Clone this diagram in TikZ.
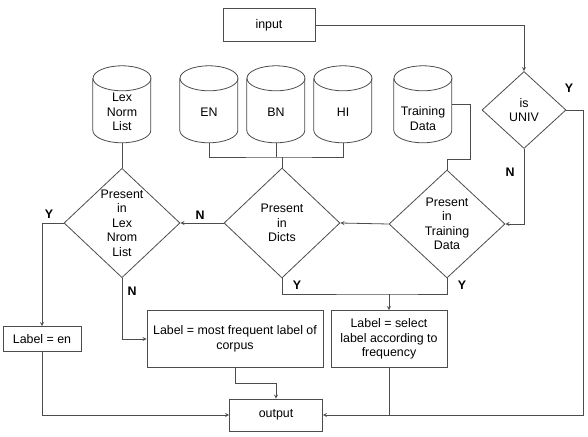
\documentclass[tikz,border=0pt]{standalone}
\usepackage{fontspec}
\setmainfont{Liberation Sans}
\usepackage{tikz}
\usetikzlibrary{arrows,shapes.geometric}

\begin{document}
\begin{tikzpicture}[x=1pt, y=-1pt, >=stealth,
		every node/.style = {font=\fontsize{12.4}{14.5}\selectfont, align=center},
		line/.style = {draw=black!70, line width=0.8pt},
		box/.style = {line, rectangle, inner sep=1pt},
		db/.style = {rectangle, minimum width=58pt, minimum height=77pt, inner sep=0pt},
		test/.style = {line, diamond, inner sep=0pt},
		yn/.style = {font=\fontsize{12.4}{14}\selectfont\bfseries}]
				\useasboundingbox (0,0) rectangle (588,436);
				% input and the first test
				\node [box, minimum width=92pt, minimum height=33pt] (input) at (269,25){input};
				\node [test, minimum width=84pt, minimum height=77pt] (univ) at (524,110){is\\UNIV};
				% data stores
				\node [db, label={[yshift=-7.5pt]center:Lex\\Norm\\List}] (lexdb) at (122,104.5){};
				\node [db, label={[yshift=-7.5pt]center:EN}] (endb) at (209,104.5){};
				\node [db, label={[yshift=-7.5pt]center:BN}] (bndb) at (276,104.5){};
				\node [db, label={[yshift=-7.5pt]center:HI}] (hidb) at (343,104.5){};
				\node [db, label={[yshift=-14pt]center:Training\\Data}] (traindb) at (423,104.5){};
				\foreach \d in {lexdb,endb,bndb,hidb,traindb}{
					\draw [line] (\d.north) ++(0,12.5) ellipse [x radius=29, y radius=12.5];
					\draw [line] (\d.north west) ++(0,12.5) -- ++(0,52) arc [start angle=180, end angle=0, x radius=29, y radius=12.5] -- ++(0,-52);
				}
				% tests
				\node [test, minimum width=116pt, minimum height=109pt] (lex) at (122,223){Present\\in\\Lex\\Nrom\\List};
				\node [test, minimum width=116pt, minimum height=110pt] (dicts) at (282,223){Present\\in\\Dicts};
				\node [test, minimum width=116pt, minimum height=108pt] (train) at (447,224){Present\\in\\Training\\Data};
				% labels and output
				\node [box, minimum width=78pt, minimum height=25pt] (laben) at (42,339){Label = en};
				\node [box, minimum width=176pt, minimum height=57pt] (freq) at (235,339){Label = most frequent label of\\corpus};
				\node [box, minimum width=116pt, minimum height=57pt] (sel) at (389,339){Label = select\\label according to\\frequency};
				\node [box, minimum width=93pt, minimum height=32pt] (output) at (276,415){output};
				\coordinate (dj) at (282,157);
				\coordinate (yj) at (389,294);
				% connectors
				\draw [line, ->] (input.east) -| (univ.north);
				\draw [line, ->] (univ.east) -- ++(17,0) |- (output.east);
				\draw [line, ->] (univ.south) |- (train.east);
				\draw [line] (traindb.east) -| (470,159) -| (train.north);
				\draw [line] (endb.south) |- (dj) -| (hidb.south);
				\draw [line] (bndb.south) -- (bndb.south |- dj);
				\draw [line] (dj) -- (dicts.north);
				\draw [line] (lexdb.south) -- (lex.north);
				\draw [line, ->] (train.west) -- (dicts.east);
				\draw [line, ->] (dicts.west) -- (lex.east);
				\draw [line, ->] (lex.west) -| (laben.north);
				\draw [line, ->] (lex.south) |- (freq.west);
				\draw [line] (dicts.south) |- (yj) -| (train.south);
				\draw [line, ->] (yj) -- (sel.north);
				\draw [line, ->] (laben.south) |- (output.west);
				\draw [line, ->] (freq.south) -- ++(0,15) -| (output.north);
				\draw [line] (sel.south) -- (sel.south |- output.east);
				% Y and N marks
				\node [yn] at (569,88){Y};
				\node [yn] at (510,172){N};
				\node [yn] at (200,215){N};
				\node [yn] at (49,214){Y};
				\node [yn] at (132,291){N};
				\node [yn] at (297,285){Y};
				\node [yn] at (462,285){Y};
		\end{tikzpicture}
\end{document}
